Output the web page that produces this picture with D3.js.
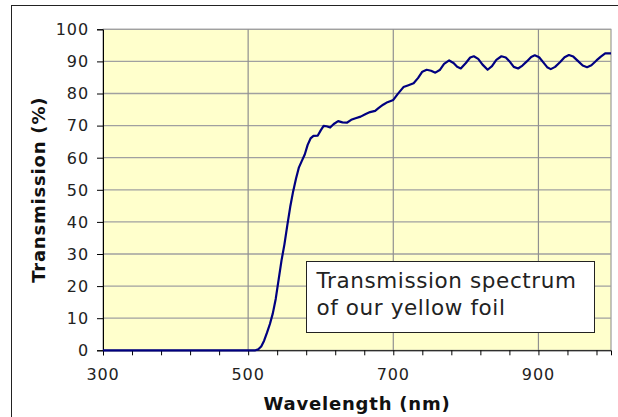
<!DOCTYPE html>
<html><head><meta charset="utf-8">
<script src="https://cdn.jsdelivr.net/npm/d3@7/dist/d3.min.js"></script>
<style>html,body{margin:0;padding:0;background:#fff;}svg{display:block;}</style>
</head><body>
<svg id="c" width="618" height="417"></svg>
<script>
const wavelengths = [300,400,500,510,514,518,522,526,530,534,538,542,546,550,554,558,562,566,570,574,578,582,586,590,596,600,604,608,613,618,624,630,636,642,648,655,662,668,675,680,686,692,700,706,714,720,728,734,740,746,752,758,764,770,777,783,788,793,800,806,811,817,823,830,836,842,849,855,861,866,872,878,884,890,895,901,907,912,917,923,930,936,942,948,955,961,967,973,980,986,992,1000];
const transmission = [0,0,0,0,0.3,1.2,3,5.5,8.2,11.5,16,22,28,33,39,44.7,49.5,53.5,57,59,61,64,66,66.8,66.9,68.5,69.9,69.8,69.4,70.5,71.4,71,70.9,71.8,72.3,72.8,73.6,74.2,74.6,75.5,76.5,77.3,78,79.8,82,82.5,83.2,84.8,86.8,87.4,87.1,86.5,87.3,89.2,90.3,89.5,88.3,87.8,89.5,91.2,91.6,90.8,89,87.4,88.5,90.5,91.6,91.2,89.8,88.3,87.8,88.7,90,91.4,91.9,91.3,89.6,88.2,87.6,88.3,89.8,91.3,92,91.5,90,88.7,88.2,88.8,90.3,91.5,92.5,92.5];
const xTickLabels = [300,500,700,900];
const xMinorTicks = [300,340,380,420,460,500,540,580,620,660,700,740,780,820,860,900,940,980];
const yTicks = [0,10,20,30,40,50,60,70,80,90,100];
const xTitle = "Wavelength (nm)";
const yTitle = "Transmission (%)";
const noteLines = ["Transmission spectrum","of our yellow foil"];

const svg = d3.select("#c");
const L=103, R=611, T=29.3, B=350.3;
const x = d3.scaleLinear().domain([300,1000]).range([L,R]);
const y = d3.scaleLinear().domain([0,100]).range([B,T]);
const font = "'DejaVu Sans', Verdana, sans-serif";

// chart area frame
svg.append("rect").attr("x",11.5).attr("y",5.5).attr("width",640).attr("height",440)
  .attr("fill","#fff").attr("stroke","#222").attr("stroke-width",1);

// plot background
svg.append("rect").attr("x",L).attr("y",T).attr("width",R-L).attr("height",B-T)
  .attr("fill","#FFFFCC").attr("stroke","#888").attr("stroke-width",1);

// horizontal gridlines
svg.append("g").selectAll("line").data(yTicks.filter(d=>d>0)).join("line")
  .attr("x1",L).attr("x2",R).attr("y1",d=>y(d)).attr("y2",d=>y(d))
  .attr("stroke","#a0a0a0").attr("stroke-width",1.3);
// vertical gridlines
svg.append("g").selectAll("line").data(xTickLabels.filter(d=>d>300)).join("line")
  .attr("x1",d=>x(d)).attr("x2",d=>x(d)).attr("y1",T).attr("y2",B)
  .attr("stroke","#909090").attr("stroke-width",1.2);

// x axis
const xAxis = d3.axisBottom(x).tickValues(xMinorTicks).tickSize(5).tickFormat("");
const gx = svg.append("g").attr("transform",`translate(0,${B})`).call(xAxis);
gx.select(".domain").attr("stroke","#000");
gx.selectAll(".tick line").attr("stroke","#000");
svg.append("g").selectAll("text").data(xTickLabels).join("text")
  .attr("x",d=>x(d)).attr("y",380).attr("text-anchor","middle")
  .attr("font-family",font).attr("font-size",16).attr("letter-spacing",0.9).attr("fill","#222").text(d=>d);

// y axis
const yAxis = d3.axisLeft(y).tickValues(yTicks).tickSize(6).tickFormat("");
const gy = svg.append("g").attr("transform",`translate(${L},0)`).call(yAxis);
gy.select(".domain").attr("stroke","#000");
gy.selectAll(".tick line").attr("stroke","#000");
svg.append("g").selectAll("text").data(yTicks).join("text")
  .attr("x",89).attr("y",d=>y(d)+5.8).attr("text-anchor","end")
  .attr("font-family",font).attr("font-size",16).attr("letter-spacing",0.9).attr("fill","#222").text(d=>d);

// line
const data = wavelengths.map((w,i)=>[w,transmission[i]]);
svg.append("path").datum(data)
  .attr("d",d3.line().x(d=>x(d[0])).y(d=>y(d[1])))
  .attr("fill","none").attr("stroke","#000080").attr("stroke-width",2.2).attr("stroke-linejoin","round");

// titles
svg.append("text").attr("x",(L+R)/2).attr("y",410).attr("text-anchor","middle")
  .attr("font-family",font).attr("font-weight","bold").attr("font-size",18).attr("letter-spacing",0.8).attr("fill","#111").text(xTitle);
svg.append("text").attr("transform",`translate(45,${(T+B)/2}) rotate(-90)`).attr("text-anchor","middle")
  .attr("font-family",font).attr("font-weight","bold").attr("font-size",18).attr("letter-spacing",0.8).attr("fill","#111").text(yTitle);

// annotation box
svg.append("rect").attr("x",306.5).attr("y",261.5).attr("width",288).attr("height",71)
  .attr("fill","#fff").attr("stroke","#222").attr("stroke-width",1);
svg.append("g").selectAll("text").data(noteLines).join("text")
  .attr("x",316.5).attr("y",(d,i)=>288+i*27)
  .attr("font-family",font).attr("font-size",21.5).attr("letter-spacing",0.6).attr("fill","#222").text(d=>d);
</script>
</body></html>
